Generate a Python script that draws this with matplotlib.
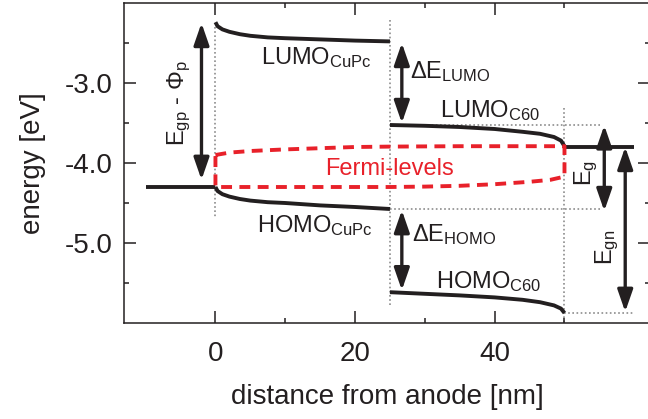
import matplotlib
matplotlib.use("Agg")
import matplotlib.pyplot as plt

plt.rcParams["font.family"] = ["Liberation Sans", "DejaVu Sans"]
plt.rcParams["mathtext.fontset"] = "custom"
plt.rcParams["mathtext.rm"] = "Liberation Sans"
plt.rcParams["mathtext.it"] = "Liberation Sans:italic"
plt.rcParams["axes.unicode_minus"] = False

# band edges (distance in nm, energy in eV)
lumo_cupc_x = [0, 0.3, 1, 2, 3.5, 5, 7.5, 10, 15, 20, 25]
lumo_cupc_y = [-2.24, -2.29, -2.33, -2.36, -2.39, -2.41, -2.43, -2.44, -2.455, -2.47, -2.48]
homo_cupc_x = [0, 0.3, 1, 2, 3.5, 5, 7.5, 10, 15, 20, 25]
homo_cupc_y = [-4.30, -4.35, -4.39, -4.42, -4.45, -4.47, -4.49, -4.50, -4.53, -4.55, -4.575]

lumo_c60_x = [25, 30, 35, 40, 44, 46.5, 48.5, 49.5, 50]
lumo_c60_y = [-3.525, -3.535, -3.55, -3.575, -3.61, -3.635, -3.675, -3.72, -3.79]
homo_c60_x = [25, 30, 35, 40, 44, 46.5, 48.5, 49.5, 50]
homo_c60_y = [-5.615, -5.635, -5.655, -5.68, -5.71, -5.74, -5.78, -5.82, -5.875]

# electrodes
anode_x = [-10, 0]
anode_y = [-4.3, -4.3]
cathode_x = [50, 60]
cathode_y = [-3.8, -3.8]

# quasi fermi levels (closed loop: electrons on top, holes below)
fermi_e_x = [0, 2, 5, 10, 15, 20, 25, 35, 50]
fermi_e_y = [-3.90, -3.87, -3.85, -3.83, -3.815, -3.80, -3.795, -3.79, -3.79]
fermi_h_x = [50, 48, 45, 40, 35, 30, 25, 20, 10, 0]
fermi_h_y = [-4.17, -4.21, -4.235, -4.265, -4.285, -4.295, -4.30, -4.30, -4.30, -4.30]

# double arrows: x, top, bottom
arrows = {
    "gp": (-2.0, -2.25, -4.21),
    "dlumo": (26.7, -2.50, -3.50),
    "dhomo": (26.7, -4.59, -5.59),
    "g": (55.7, -3.53, -4.60),
    "gn": (58.7, -3.80, -5.86),
}

ink = "#231f20"
red = "#e8212a"
grey = "#8c8c8c"

fig = plt.figure(figsize=(6.48, 4.19), dpi=100)
ax = fig.add_axes([124 / 648, 1 - 323 / 419, (650 - 124) / 648, 320 / 419])

# dotted guide lines
dot = dict(color=grey, lw=1.2, ls=(0, (1, 1.5)), zorder=1)
ax.plot([0, 0], [-2.3, -4.68], **dot)
ax.plot([25, 25], [-2.21, -5.79], **dot)
ax.plot([50, 50], [-3.31, -6.0], **dot)
ax.plot([25, 55.4], [-3.525, -3.525], **dot)
ax.plot([25, 55.4], [-4.575, -4.575], **dot)
ax.plot([50, 60], [-5.875, -5.875], **dot)

band = dict(color=ink, lw=2.8, solid_capstyle="butt", zorder=3)
ax.plot(lumo_cupc_x, lumo_cupc_y, **band)
ax.plot(homo_cupc_x, homo_cupc_y, **band)
ax.plot(lumo_c60_x, lumo_c60_y, **band)
ax.plot(homo_c60_x, homo_c60_y, **band)
ax.plot(anode_x, anode_y, **band)
ax.plot(cathode_x, cathode_y, **band)

ax.plot(fermi_e_x + fermi_h_x + [fermi_e_x[0]],
        fermi_e_y + fermi_h_y + [fermi_e_y[0]],
        color=red, lw=2.8, ls=(0, (2.8, 1.9)), zorder=4)

for x, top, bottom in arrows.values():
    ax.annotate("", xy=(x, bottom), xytext=(x, top),
                arrowprops=dict(arrowstyle="<|-|>,head_length=0.95,head_width=0.33",
                                lw=2.4, color=ink, mutation_scale=14,
                                shrinkA=0, shrinkB=0), zorder=5)

fs = 17
ax.text(6.55, -2.76, r"LUMO$_{\mathrm{CuPc}}$", fontsize=fs, color=ink)
ax.text(6.0, -4.86, r"HOMO$_{\mathrm{CuPc}}$", fontsize=fs, color=ink)
ax.text(32.1, -3.43, r"LUMO$_{\mathrm{C60}}$", fontsize=fs, color=ink)
ax.text(31.6, -5.57, r"HOMO$_{\mathrm{C60}}$", fontsize=fs, color=ink)
ax.text(27.9, -2.94, r"ΔE$_{\mathrm{LUMO}}$", fontsize=fs, color=ink)
ax.text(28.1, -4.98, r"ΔE$_{\mathrm{HOMO}}$", fontsize=fs, color=ink)
ax.text(15.7, -4.15, "Fermi-levels", fontsize=fs, color=red)
ax.text(-5.2, -3.25, r"E$_{\mathrm{gp}}$ - Φ$_{\mathrm{p}}$", fontsize=fs, color=ink,
        rotation=90, ha="center", va="center")
ax.text(53.1, -4.13, r"E$_{\mathrm{g}}$", fontsize=fs, color=ink,
        rotation=90, ha="center", va="center")
ax.text(56.2, -5.05, r"E$_{\mathrm{gn}}$", fontsize=fs, color=ink,
        rotation=90, ha="center", va="center")

ax.set_xlim(-13.1, 62.25)
ax.set_ylim(-6.0, -2.0)
ax.set_xticks([0, 20, 40])
ax.set_xticks([10, 30, 50], minor=True)
ax.set_yticks([-3, -4, -5])
ax.set_yticklabels(["-3.0", "-4.0", "-5.0"])
ax.set_yticks([-2.5, -3.5, -4.5, -5.5], minor=True)
ax.tick_params(which="both", direction="in", top=True, right=True,
               width=1.1, colors=ink, labelsize=20)
ax.tick_params(which="major", length=8.5)
ax.tick_params(which="minor", length=3.6)
ax.tick_params(axis="x", pad=13)
ax.tick_params(axis="y", pad=8)
for s in ax.spines.values():
    s.set_linewidth(1.1)
    s.set_color(ink)

ax.set_xlabel("distance from anode [nm]", fontsize=20, color=ink, labelpad=12)
ax.set_ylabel("energy [eV]", fontsize=20, color=ink, labelpad=14)

fig.savefig("out.png", dpi=100)
